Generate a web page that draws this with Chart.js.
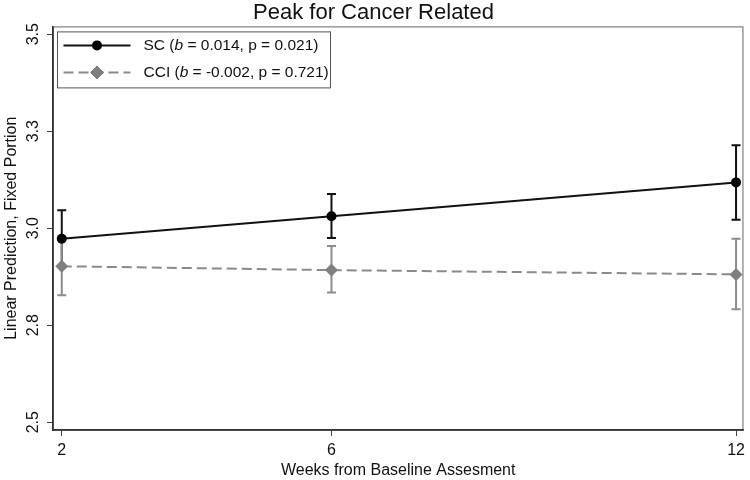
<!DOCTYPE html>
<html>
<head>
<meta charset="utf-8">
<script src="https://cdn.jsdelivr.net/npm/chart.js@4"></script>
<style>
  html, body { margin: 0; padding: 0; background: #fff; }
  #wrap { width: 750px; height: 480px; }
</style>
</head>
<body>
<div id="wrap"><canvas id="peakChart"></canvas></div>
<script>
// Data
const weeks = [2, 6, 12];
const xTicks = [2, 6, 12];
const yTicks = [2.5, 2.75, 3.0, 3.25, 3.5];
const yTickLabels = ['2.5', '2.8', '3.0', '3.3', '3.5'];

const scMean = [2.973, 3.031, 3.118];
const scLow = [2.900, 2.975, 3.022];
const scHigh = [3.046, 3.088, 3.214];

const cciMean = [2.902, 2.892, 2.881];
const cciLow = [2.827, 2.834, 2.791];
const cciHigh = [2.977, 2.954, 2.973];

const seriesNames = ['SC', 'CCI'];
const seriesB = ['0.014', '-0.002'];
const seriesP = ['0.021', '0.721'];

const FONT = "'Liberation Sans', Arial, sans-serif";

// plot frame (top / right edges)
const framePlugin = {
  id: 'frame',
  beforeDraw(chart) {
    const { ctx, chartArea: a } = chart;
    ctx.save();
    ctx.strokeStyle = '#666';
    ctx.lineWidth = 1;
    ctx.strokeRect(a.left + 0.5, a.top + 0.5, a.right - a.left - 1, a.bottom - a.top);
    ctx.restore();
  }
};

// capped error bars, drawn under the markers
const errorBarPlugin = {
  id: 'errorBars',
  beforeDatasetsDraw(chart) {
    const { ctx } = chart;
    const xs = chart.scales.x, ys = chart.scales.y;
    chart.data.datasets.forEach(ds => {
      ctx.save();
      ctx.strokeStyle = ds.errColor;
      ctx.lineWidth = 2;
      ds.data.forEach((pt, i) => {
        const x = xs.getPixelForValue(pt.x);
        const y1 = ys.getPixelForValue(ds.errLow[i]);
        const y2 = ys.getPixelForValue(ds.errHigh[i]);
        ctx.beginPath();
        ctx.moveTo(x, y1); ctx.lineTo(x, y2);
        ctx.moveTo(x - 4.5, y1); ctx.lineTo(x + 4.5, y1);
        ctx.moveTo(x - 4.5, y2); ctx.lineTo(x + 4.5, y2);
        ctx.stroke();
      });
      ctx.restore();
    });
  }
};

// Stata style legend box inside the plot
const legendPlugin = {
  id: 'boxLegend',
  afterDatasetsDraw(chart) {
    const { ctx, chartArea: a } = chart;
    const bx = a.left + 4.5, by = a.top + 5.5, bw = 273, bh = 56;
    ctx.save();
    ctx.fillStyle = '#fff';
    ctx.fillRect(bx, by, bw, bh);
    ctx.strokeStyle = '#555';
    ctx.lineWidth = 1;
    ctx.strokeRect(bx, by, bw, bh);

    chart.data.datasets.forEach((ds, i) => {
      const rowY = by + 13.5 + i * 27;
      const x0 = bx + 6, x1 = bx + 73, xm = (x0 + x1) / 2;
      ctx.strokeStyle = ds.borderColor;
      ctx.lineWidth = 2;
      ctx.setLineDash(ds.borderDash || []);
      ctx.beginPath();
      ctx.moveTo(x0, rowY); ctx.lineTo(x1, rowY);
      ctx.stroke();
      ctx.setLineDash([]);
      Chart.helpers.drawPoint(ctx, {
        pointStyle: ds.pointStyle,
        radius: ds.pointRadius,
        borderWidth: 0
      }, xm, rowY);
      ctx.fillStyle = ds.pointBackgroundColor;
      ctx.beginPath();
      if (ds.pointStyle === 'circle') {
        ctx.arc(xm, rowY, ds.pointRadius, 0, Math.PI * 2);
      } else {
        const r = ds.pointRadius;
        ctx.moveTo(xm, rowY - r); ctx.lineTo(xm + r, rowY);
        ctx.lineTo(xm, rowY + r); ctx.lineTo(xm - r, rowY);
        ctx.closePath();
      }
      ctx.fill();

      // text with italic b
      ctx.fillStyle = '#111';
      ctx.textBaseline = 'middle';
      let tx = bx + 86;
      const parts = [
        [seriesNames[i] + ' (', 'normal'],
        ['b', 'italic'],
        [' = ' + seriesB[i] + ', p = ' + seriesP[i] + ')', 'normal']
      ];
      parts.forEach(([t, st]) => {
        ctx.font = st + ' 15.5px ' + FONT;
        ctx.fillText(t, tx, rowY + 0.5);
        tx += ctx.measureText(t).width;
      });
    });
    ctx.restore();
  }
};

new Chart(document.getElementById('peakChart'), {
  type: 'line',
  data: {
    datasets: [
      {
        label: 'SC',
        data: weeks.map((w, i) => ({ x: w, y: scMean[i] })),
        errLow: scLow,
        errHigh: scHigh,
        errColor: '#111',
        borderColor: '#111',
        borderWidth: 2,
        pointStyle: 'circle',
        pointRadius: 5,
        pointBackgroundColor: '#000',
        pointBorderWidth: 0,
        tension: 0
      },
      {
        label: 'CCI',
        data: weeks.map((w, i) => ({ x: w, y: cciMean[i] })),
        errLow: cciLow,
        errHigh: cciHigh,
        errColor: '#8c8c8c',
        borderColor: '#8a8a8a',
        borderWidth: 2,
        borderDash: [10, 5],
        pointStyle: 'rectRot',
        pointRadius: 6.5,
        pointBackgroundColor: '#7f7f7f',
        pointBorderWidth: 0,
        tension: 0
      }
    ]
  },
  options: {
    responsive: true,
    maintainAspectRatio: false,
    animation: false,
    layout: { padding: { top: 0, right: 3, bottom: 0, left: 0 } },
    plugins: {
      legend: { display: false },
      tooltip: { enabled: false },
      title: {
        display: true,
        text: 'Peak for Cancer Related',
        color: '#111',
        font: { family: FONT, size: 22, weight: 'normal' },
        padding: { top: 0, bottom: 0 }
      }
    },
    scales: {
      x: {
        type: 'linear',
        min: 1.87,
        max: 12.11,
        afterBuildTicks: s => { s.ticks = xTicks.map(v => ({ value: v })); },
        afterFit: s => { s.height = 50; },
        ticks: {
          color: '#111',
          font: { family: FONT, size: 16 },
          padding: 5,
          maxRotation: 0,
          callback: v => String(v)
        },
        grid: { drawOnChartArea: false, drawTicks: true, tickLength: 6, color: '#444' },
        border: { display: true, color: '#333', width: 1.5 },
        title: {
          display: true,
          text: 'Weeks from Baseline Assesment',
          color: '#111',
          font: { family: FONT, size: 16 },
          padding: { top: 0, bottom: 0 }
        }
      },
      y: {
        min: 2.48,
        max: 3.52,
        afterBuildTicks: s => { s.ticks = yTicks.map(v => ({ value: v })); },
        afterFit: s => { s.width = 53; },
        ticks: {
          color: '#111',
          font: { family: FONT, size: 16 },
          padding: 2,
          minRotation: 90,
          maxRotation: 90,
          crossAlign: 'center',
          callback: v => yTickLabels[yTicks.indexOf(v)]
        },
        grid: { drawOnChartArea: false, drawTicks: true, tickLength: 6, color: '#444' },
        border: { display: true, color: '#333', width: 1.5 },
        title: {
          display: true,
          text: 'Linear Prediction, Fixed Portion',
          color: '#111',
          font: { family: FONT, size: 16 },
          padding: { top: 1.5, bottom: 0 }
        }
      }
    }
  },
  plugins: [framePlugin, errorBarPlugin, legendPlugin]
});
</script>
</body>
</html>
